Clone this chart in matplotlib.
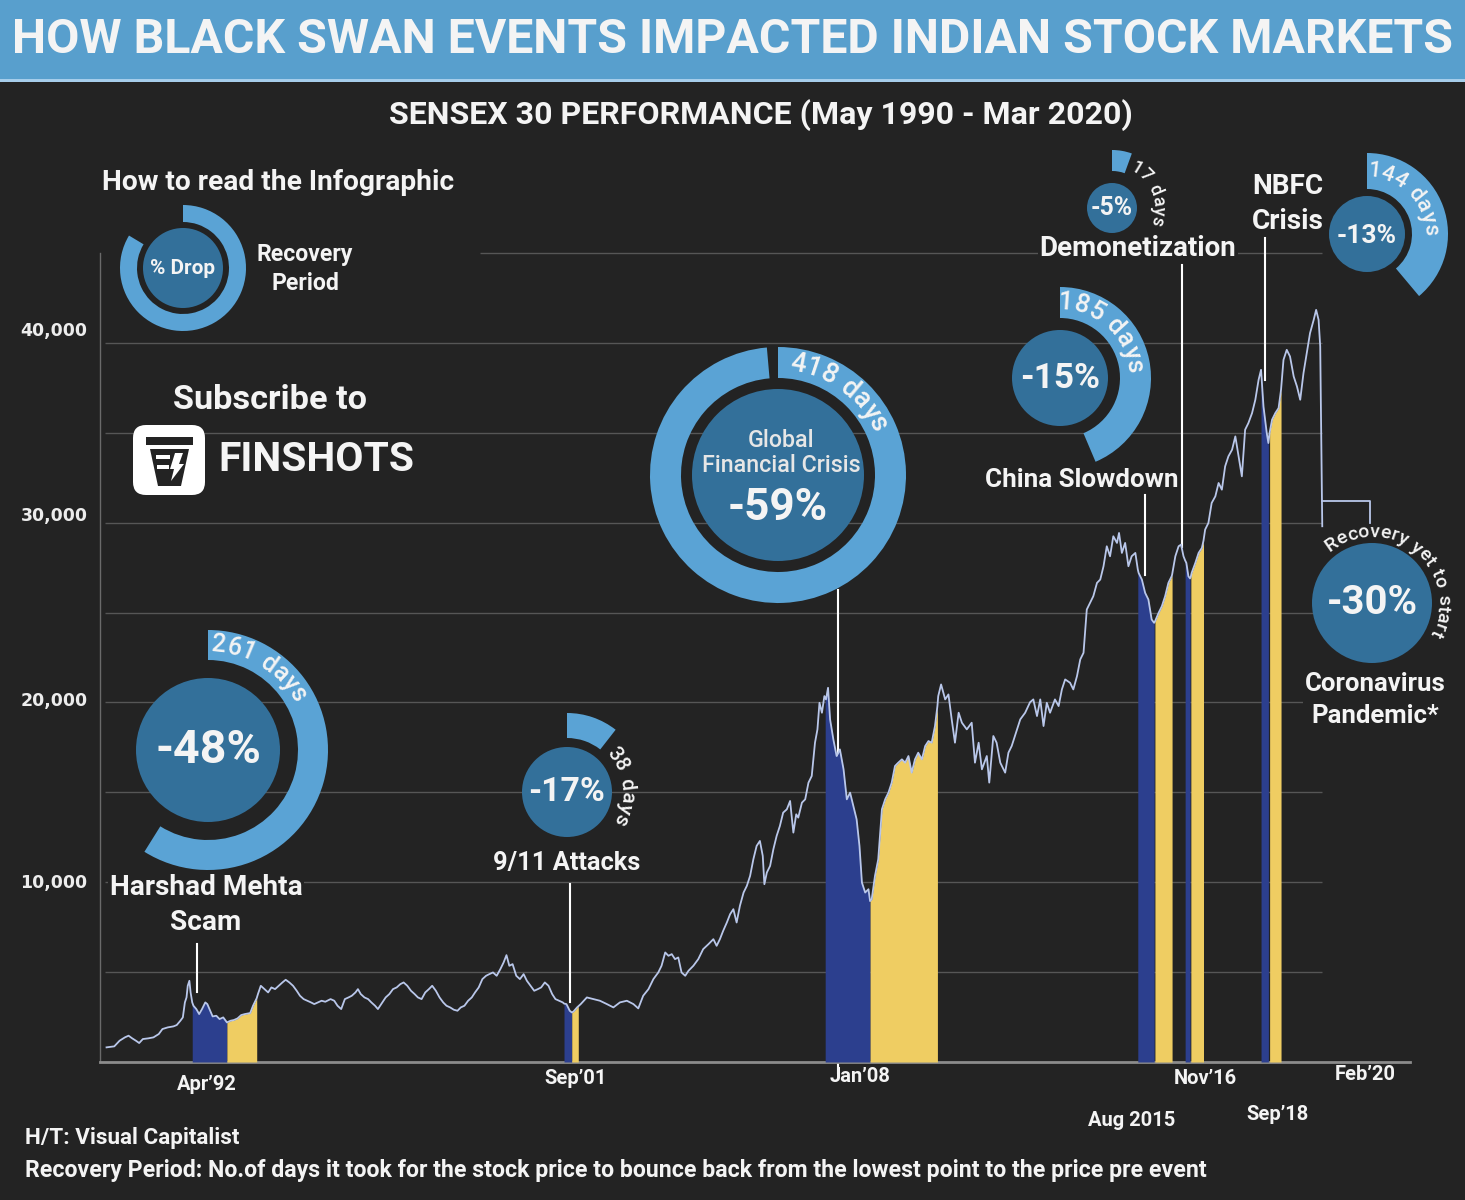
import numpy as np
import matplotlib
matplotlib.use("Agg")
import matplotlib.pyplot as plt
import matplotlib.transforms as mtransforms
from matplotlib import font_manager as fm
from matplotlib.patches import Circle, Wedge, Rectangle, FancyBboxPatch, Polygon

W, H = 1465, 1200

# ---- Sensex 30 (decimal year, index level) ----
dates = [
    1990.41, 1990.50, 1990.60, 1990.73, 1990.86, 1990.95, 1991.04, 1991.13, 1991.21, 1991.30,
    1991.43, 1991.56, 1991.69, 1991.78, 1991.91, 1992.05, 1992.13, 1992.22, 1992.28, 1992.33,
    1992.37, 1992.40, 1992.44, 1992.47, 1992.51, 1992.54, 1992.61, 1992.68, 1992.75, 1992.83,
    1992.88, 1992.95, 1993.01, 1993.10, 1993.18, 1993.27, 1993.36, 1993.45, 1993.53, 1993.62,
    1993.71, 1993.80, 1993.93, 1994.00, 1994.06, 1994.09, 1994.12, 1994.19, 1994.28, 1994.37,
    1994.45, 1994.54, 1994.63, 1994.72, 1994.80, 1994.89, 1994.98, 1995.07, 1995.15, 1995.24,
    1995.33, 1995.42, 1995.50, 1995.59, 1995.68, 1995.77, 1995.90, 1995.99, 1996.07, 1996.16,
    1996.25, 1996.34, 1996.42, 1996.51, 1996.57, 1996.64, 1996.73, 1996.82, 1996.90, 1996.99,
    1997.06, 1997.17, 1997.25, 1997.34, 1997.43, 1997.52, 1997.61, 1997.69, 1997.78, 1997.87,
    1997.96, 1998.04, 1998.13, 1998.22, 1998.31, 1998.39, 1998.48, 1998.57, 1998.66, 1998.74,
    1998.83, 1998.92, 1999.01, 1999.09, 1999.18, 1999.27, 1999.36, 1999.44, 1999.53, 1999.62,
    1999.71, 1999.79, 1999.88, 1999.97, 2000.06, 2000.14, 2000.21, 2000.28, 2000.36, 2000.45,
    2000.54, 2000.63, 2000.71, 2000.80, 2000.89, 2000.98, 2001.06, 2001.15, 2001.24, 2001.33,
    2001.41, 2001.50, 2001.59, 2001.62, 2001.68, 2001.76, 2001.81, 2001.85, 2001.94, 2001.97,
    2002.03, 2002.18, 2002.34, 2002.50, 2002.67, 2002.83, 2002.99, 2003.16, 2003.32, 2003.44,
    2003.56, 2003.69, 2003.81, 2003.93, 2004.01, 2004.10, 2004.18, 2004.26, 2004.34, 2004.42,
    2004.50, 2004.59, 2004.67, 2004.79, 2004.91, 2005.03, 2005.16, 2005.28, 2005.36, 2005.44,
    2005.52, 2005.61, 2005.69, 2005.77, 2005.85, 2005.93, 2006.02, 2006.10, 2006.18, 2006.26,
    2006.34, 2006.42, 2006.49, 2006.53, 2006.59, 2006.67, 2006.75, 2006.83, 2006.91, 2006.99,
    2007.08, 2007.16, 2007.24, 2007.31, 2007.36, 2007.45, 2007.53, 2007.61, 2007.69, 2007.73,
    2007.77, 2007.83, 2007.88, 2007.94, 2008.00, 2008.02, 2008.04, 2008.09, 2008.14, 2008.22,
    2008.30, 2008.38, 2008.47, 2008.55, 2008.63, 2008.71, 2008.79, 2008.86, 2008.92, 2009.00,
    2009.08, 2009.12, 2009.16, 2009.24, 2009.32, 2009.41, 2009.49, 2009.57, 2009.65, 2009.73,
    2009.81, 2009.90, 2009.98, 2010.06, 2010.14, 2010.22, 2010.30, 2010.39, 2010.47, 2010.55,
    2010.63, 2010.71, 2010.77, 2010.79, 2010.86, 2010.96, 2011.04, 2011.12, 2011.20, 2011.29,
    2011.37, 2011.49, 2011.61, 2011.69, 2011.78, 2011.86, 2011.98, 2012.04, 2012.14, 2012.22,
    2012.31, 2012.43, 2012.51, 2012.59, 2012.72, 2012.80, 2012.92, 2013.04, 2013.12, 2013.21,
    2013.29, 2013.37, 2013.45, 2013.53, 2013.65, 2013.74, 2013.82, 2013.90, 2014.02, 2014.10,
    2014.19, 2014.27, 2014.35, 2014.43, 2014.51, 2014.59, 2014.68, 2014.76, 2014.84, 2014.92,
    2015.00, 2015.08, 2015.17, 2015.22, 2015.29, 2015.37, 2015.45, 2015.53, 2015.62, 2015.68,
    2015.70, 2015.78, 2015.86, 2015.94, 2016.02, 2016.08, 2016.10, 2016.19, 2016.27, 2016.35,
    2016.43, 2016.51, 2016.52, 2016.60, 2016.68, 2016.74, 2016.80, 2016.84, 2016.87, 2016.92,
    2016.96, 2016.98, 2017.00, 2017.09, 2017.17, 2017.25, 2017.29, 2017.33, 2017.41, 2017.49,
    2017.58, 2017.66, 2017.74, 2017.82, 2017.90, 2017.99, 2018.07, 2018.15, 2018.23, 2018.31,
    2018.39, 2018.48, 2018.56, 2018.64, 2018.70, 2018.76, 2018.84, 2018.88, 2018.91, 2018.97,
    2019.05, 2019.13, 2019.19, 2019.25, 2019.33, 2019.41, 2019.50, 2019.58, 2019.66, 2019.74,
    2019.82, 2019.90, 2019.99, 2020.05, 2020.11, 2020.15, 2020.20,
]
sensex = [
    814, 840, 870, 1184, 1370, 1463, 1314, 1184, 1055, 1277,
    1314, 1370, 1555, 1833, 1925, 1981, 2055, 2296, 2481, 3314,
    3592, 4240, 4518, 3870, 3314, 3129, 2944, 2666, 2944, 3314,
    3222, 2851, 2536, 2573, 2388, 2481, 2203, 2296, 2333, 2425,
    2610, 2666, 2722, 3129, 3407, 3550, 3777, 4240, 4055, 3870,
    4148, 4055, 4240, 4425, 4574, 4425, 4240, 3962, 3685, 3499,
    3407, 3314, 3222, 3314, 3407, 3351, 3499, 3407, 3129, 2944,
    3499, 3592, 3685, 3870, 4055, 3777, 3592, 3499, 3314, 3129,
    2944, 3314, 3592, 3777, 4055, 4148, 4333, 4425, 4240, 3962,
    3777, 3592, 3499, 3870, 4055, 4240, 3962, 3592, 3314, 3129,
    3036, 2907, 2851, 3036, 3129, 3407, 3592, 3870, 4148, 4611,
    4796, 4888, 4981, 4796, 5166, 5537, 5944, 5351, 5444, 4796,
    4611, 4888, 4518, 4240, 3962, 4055, 4148, 4425, 4240, 3777,
    3499, 3407, 3314, 3250, 3222, 2851, 2759, 2800, 3036, 3100,
    3222, 3592, 3500, 3407, 3222, 3037, 3315, 3407, 3222, 2981,
    3685, 4055, 4611, 4981, 5352, 6093, 5907, 6000, 5722, 5815,
    4981, 4796, 5074, 5352, 5722, 6278, 6556, 6833, 6463, 6833,
    7296, 7759, 8222, 8500, 7759, 8685, 9426, 9796, 10352, 11278,
    12019, 12296, 11463, 9889, 10537, 10908, 11833, 12574, 13130, 13871,
    14056, 14519, 12759, 13778, 13593, 14426, 14611, 15537, 15908, 16834,
    17760, 18500, 19982, 19427, 20353, 20260, 20168, 20816, 19056, 17945,
    17019, 17389, 16278, 14611, 14982, 14241, 13500, 12019, 9982, 9426,
    9611, 8950, 9056, 10352, 11278, 14056, 14611, 14982, 15537, 16463,
    16649, 16834, 16649, 17019, 16093, 16834, 17204, 16834, 17574, 17852,
    17760, 18686, 19800, 20353, 21001, 20169, 20446, 19057, 17761, 19428,
    18872, 18502, 18872, 16650, 17761, 16280, 17020, 15539, 18132, 17761,
    16650, 16095, 17206, 17576, 18502, 19057, 19428, 20013, 20169, 19243,
    20169, 18687, 19983, 19428, 20169, 19798, 20724, 21280, 21095, 20724,
    21465, 22391, 22761, 25169, 25539, 25910, 26651, 26836, 27576, 28687,
    28132, 29243, 28873, 29428, 28317, 28873, 27576, 28132, 28317, 27400,
    27206, 26836, 26095, 25724, 24613, 24428, 24500, 24984, 25354, 25910,
    26651, 27021, 27100, 28132, 28687, 28780, 28132, 27900, 27761, 27021,
    26900, 27000, 27206, 27761, 28317, 28595, 29000, 29614, 29984, 31095,
    31465, 32207, 31836, 33132, 33688, 34058, 34799, 33688, 32577, 35170,
    35540, 36096, 36837, 37948, 38503, 36466, 34984, 34429, 35000, 35725,
    36096, 36373, 37392, 39059, 39614, 39244, 38133, 37577, 36837, 38318,
    39429, 40540, 41281, 41837, 41281, 39800, 29800,
]

# ---- events ----
event_names = ["Harshad Mehta\nScam", "9/11 Attacks", "Global\nFinancial Crisis",
               "China Slowdown", "Demonetization", "NBFC\nCrisis", "Coronavirus\nPandemic*"]
drop_text = ["-48%", "-17%", "-59%", "-15%", "-5%", "-13%", "-30%"]
recovery_text = ["261 days", "38 days", "418 days", "185 days", "17 days", "144 days",
                 "Recovery yet to start"]
fall_start = [1992.51, 2001.62, 2008.02, 2015.68, 2016.84, 2018.70]
fall_end = [1993.36, 2001.81, 2009.12, 2016.08, 2016.96, 2018.88]
rise_start = [1993.36, 2001.81, 2009.12, 2016.10, 2016.98, 2018.91]
rise_end = [1994.09, 2001.97, 2010.77, 2016.52, 2017.29, 2019.19]

ytick_vals = [10000, 20000, 30000, 40000]
ytick_labels = ["10,000", "20,000", "30,000", "40,000"]
grid_levels = [5000, 10000, 15000, 20000, 25000, 30000, 35000, 40000]
xlabels = ["Apr’92", "Sep’01", "Jan’08", "Aug 2015", "Nov’16", "Sep’18", "Feb’20"]
xlabel_dates = [1992.87, 2001.91, 2008.87, 2015.54, 2017.33, 2019.10, 2021.25]
xlabel_ypx = [1084, 1078, 1077, 1120, 1078, 1115, 1075]

# leader lines: (date, top value, bottom value)
leaders = [(1992.62, 6556, 3889), (2001.77, 9889, 3333), (2008.33, 26280, -600),
           (2015.86, 31557, 27113), (2016.77, 44337, 28669), (2018.80, 45837, 37947)]

# ---- colours ----
BG = "#232323"
BAND = "#589fcd"
BAND_LINE = "#a6cdea"
GRID = "#565656"
LINE = "#b9c7ea"
BLUE = "#2c3f8e"
YELLOW = "#efcd62"
RING = "#5aa3d5"
DISC = "#33709a"
WHITE = "#f4f4f4"

names = {f.name for f in fm.fontManager.ttflist}
BODY = "Roboto" if "Roboto" in names else "DejaVu Sans"

fig = plt.figure(figsize=(W / 100, H / 100), dpi=100, facecolor=BG)
renderer = fig.canvas.get_renderer()

# main chart axes (pixel box 100..1410 x 253..1062)
ax = fig.add_axes([100 / W, 1 - 1062 / H, 1310 / W, (1062 - 253) / H])
ax.set_xlim(1990.25, 2022.35)
ax.set_ylim(0, 45000)
ax.patch.set_alpha(0)

x = np.array(dates)
y = np.array(sensex)

ax.hlines(grid_levels, 1990.37, 2020.2, color=GRID, lw=1, zorder=0)
ax.hlines([45000], 1999.56, 2020.2, color=GRID, lw=1, zorder=0, clip_on=False)

for d, top, bot in leaders:
    ax.plot([d, d], [top, bot], color="white", lw=1.5, zorder=2.5, clip_on=False)

for a, b in zip(fall_start, fall_end):
    m = (x >= a - 1e-6) & (x <= b + 1e-6)
    ax.fill_between(x, 0, y, where=m, color=BLUE, lw=0, zorder=3)
for a, b in zip(rise_start, rise_end):
    m = (x >= a - 1e-6) & (x <= b + 1e-6)
    ax.fill_between(x, 0, y, where=m, color=YELLOW, lw=0, zorder=3)

ax.plot(x, y, color=LINE, lw=1.3, zorder=4)

# coronavirus bracket
ax.plot([2020.2, 2021.37, 2021.37], [31224, 31224, 30002], color=LINE, lw=1.3,
        zorder=4, clip_on=False)

for s in ["top", "right"]:
    ax.spines[s].set_visible(False)
ax.spines["left"].set_color("#6a6a6a")
ax.spines["left"].set_linewidth(1)
ax.spines["bottom"].set_color("#8c8c8c")
ax.spines["bottom"].set_linewidth(2)
ax.set_xticks([])
ax.set_yticks(ytick_vals)
ax.set_yticklabels(ytick_labels, fontfamily="DejaVu Sans", fontweight="bold")
ax.tick_params(axis="y", length=0, pad=9, labelcolor="#ececec", labelsize=12.5)
# the labels sit a little above their gridlines in the original
for lbl, dy in zip(ax.get_yticklabels(), [1, 3, 9, 14]):
    lbl.set_transform(lbl.get_transform() + mtransforms.ScaledTranslation(0, dy / 100, fig.dpi_scale_trans))

# ---- overlay in pixel coordinates ----
ov = fig.add_axes([0, 0, 1, 1])
ov.set_xlim(0, W)
ov.set_ylim(H, 0)
ov.axis("off")
ov.set_zorder(5)
ov.patch.set_alpha(0)


def px(date, val):
    p = ax.transData.transform((date, val))
    return ov.transData.inverted().transform(p)


def fit(xc, yc, s, width, ha="center", weight="bold", color=WHITE, family=None, **kw):
    t = ov.text(xc, yc, s, ha=ha, va="center", fontsize=20, color=color,
                fontweight=weight, fontfamily=family or BODY, **kw)
    widest = max(s.split("\n"), key=len)
    probe = ov.text(0, 0, widest, fontsize=20, fontweight=weight, fontfamily=family or BODY)
    wline = probe.get_window_extent(renderer).width
    probe.remove()
    t.set_fontsize(20 * width / wline)
    return t


def arc_text(s, cx, cy, r, start, size, color=WHITE):
    prop = fm.FontProperties(family=BODY, size=size, weight="medium")
    wn = renderer.get_text_width_height_descent("n", prop, ismath=False)[0]
    rb = r - 0.3 * size * 100 / 72
    th = np.radians(start)
    for ch in s:
        w = wn * 0.55 if ch == " " else renderer.get_text_width_height_descent(ch, prop, ismath=False)[0]
        th -= w / 2 / rb
        if ch != " ":
            ov.text(cx + rb * np.cos(th), cy - rb * np.sin(th), ch, rotation=np.degrees(th) - 90,
                    rotation_mode="anchor", ha="center", va="baseline",
                    fontproperties=prop, color=color)
        th -= w / 2 / rb


# title band
ov.add_patch(Rectangle((0, 0), W, 79, color=BAND, lw=0))
ov.add_patch(Rectangle((0, 79), W, 3, color=BAND_LINE, lw=0))
fit(732, 40, "HOW BLACK SWAN EVENTS IMPACTED INDIAN STOCK MARKETS", 1440)
fit(761, 115, "SENSEX 30 PERFORMANCE (May 1990 - Mar 2020)", 742)

# x labels
for lab, d, ypx in zip(xlabels, xlabel_dates, xlabel_ypx):
    xp = px(d, 0)[0]
    ov.text(xp, ypx, lab, ha="center", va="center", fontsize=14.5, color=WHITE,
            fontweight="bold", fontfamily=BODY)

# donuts: (cx, cy, disc r, ring inner, ring outer, ring sweep)
donut_geo = [
    (208, 750, 72, 90, 120, 212),
    (567, 792, 45, 54, 79, 38),
    (778, 475, 86, 97, 128, 355),
    (1060, 378, 48, 60, 91, 157),
    (1112, 208, 25, 37, 58, 20),
    (1367, 234, 38, 45, 81, 140),
    (1372, 603, 60, 0, 0, 0),
]
drop_width = [106, 77, 100, 80, 42, 60, 91]
drop_dy = [0, 0, 33, 0, 0, 2, 0]
arc_style = [(88, 106, 18), (45, 61, 15), (84, 113, 19.5), (92, 76, 18.5),
             (66, 47, 13), (90, 64, 16), (130, 72, 14)]

for (cx, cy, rd, ri, ro, sw), dt, wd, dy, rt, (st, rr, sz) in zip(
        donut_geo, drop_text, drop_width, drop_dy, recovery_text, arc_style):
    if sw > 0:
        ov.add_patch(Wedge((cx, cy), ro, -90, sw - 90, width=ro - ri, color=RING, lw=0))
    ov.add_patch(Circle((cx, cy), rd, color=DISC, lw=0))
    fit(cx, cy + dy, dt, wd)
    arc_text(rt, cx, cy, rr, st, sz)

# event labels
lab_pos = [(206, 905, 192), (567, 863, 147), (781, 453, 159), (1082, 480, 193),
           (1138, 248, 197), (1288, 204, 72), (1375, 700, 140)]
for name, (lx, ly, lw_) in zip(event_names, lab_pos):
    if name.startswith("Global"):
        fit(lx, ly, name, lw_, weight="medium", color="#e6e6e6", linespacing=1.15)
    else:
        fit(lx, ly, name, lw_, linespacing=1.38,
            bbox=dict(facecolor=BG, edgecolor="none", pad=1))

# legend "how to read"
fit(278, 183, "How to read the Infographic", 351)
ov.add_patch(Wedge((183, 268), 63, -90, 301 - 90, width=17, color=RING, lw=0))
ov.add_patch(Circle((183, 268), 40, color=DISC, lw=0))
fit(183, 269, "% Drop", 65)
fit(305, 269, "Recovery\nPeriod", 96, linespacing=1.3)

# subscribe / logo
fit(270, 400, "Subscribe to", 194)
ov.add_patch(FancyBboxPatch((133, 425), 72, 70, boxstyle="round,pad=0,rounding_size=13",
                            facecolor="white", edgecolor="none"))
ov.add_patch(Rectangle((146, 437), 47, 8, color=BG, lw=0))
ov.add_patch(Polygon([(150, 449), (189, 449), (181, 486), (158, 486)], closed=True,
                     facecolor=BG, edgecolor="none"))
ov.add_patch(Rectangle((156, 455), 14, 4, color="white", lw=0))
ov.add_patch(Rectangle((157, 465), 12, 4, color="white", lw=0))
ov.add_patch(Polygon([(175, 453), (183, 453), (179, 464), (184, 464), (171, 481),
                      (174, 469), (170, 469)], closed=True, facecolor="white", edgecolor="none"))
narrow = "Liberation Sans Narrow" if "Liberation Sans Narrow" in names else BODY
fit(218, 460, "FINSHOTS", 195, ha="left", family=narrow)

# footer
fit(25, 1138, "H/T: Visual Capitalist", 213, ha="left")
fit(25, 1170, "Recovery Period: No.of days it took for the stock price to bounce back from "
    "the lowest point to the price pre event", 1177, ha="left")

fig.savefig("out.png", dpi=100, facecolor=BG)
